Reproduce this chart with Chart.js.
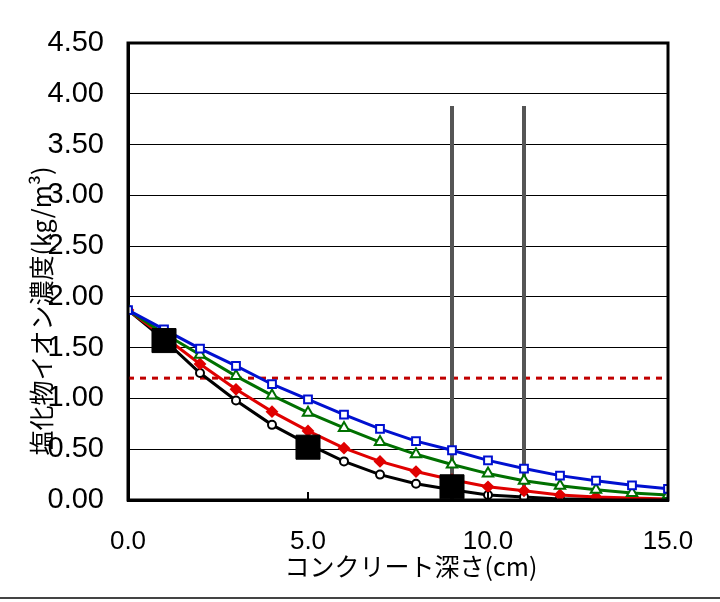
<!DOCTYPE html>
<html>
<head>
<meta charset="utf-8">
<script src="https://cdn.jsdelivr.net/npm/chart.js@4"></script>
<style>
  html, body { margin:0; padding:0; background:#fff; }
</style>
</head>
<body>
<canvas id="chart" width="720" height="602"></canvas>
<script>

// depth (cm) and chloride ion values per series
const depth      = [0,1,2,3,4,5,6,7,8,9,10,11,12,13,14,15]
const blueVals   = [1.87,1.68,1.49,1.32,1.14,0.99,0.84,0.70,0.58,0.49,0.39,0.31,0.24,0.19,0.145,0.11]
const greenVals  = [1.87,1.64,1.43,1.22,1.03,0.86,0.71,0.57,0.45,0.35,0.26,0.19,0.14,0.10,0.07,0.05]
const redVals    = [1.87,1.61,1.34,1.09,0.87,0.68,0.51,0.38,0.28,0.20,0.13,0.09,0.05,0.03,0.02,0.01]
const blackVals  = [1.87,1.58,1.25,0.98,0.74,0.55,0.38,0.25,0.16,0.10,0.05,0.03,0.01,0.01,0.00,0.00]

// measured points (big squares)
const measDepth  = [1, 5, 9]
const measVals   = [1.57, 0.52, 0.13]

// rebar position lines and limit value
const rebarDepth = [9, 11]
const rebarTop   = 3.88
const limitValue = 1.2

const xTicks = [0, 5, 10, 15]
const yMax   = 4.5

const xTitle = 'コンクリート深さ(cm)'
const yTitle = '塩化物イオン濃度(kg/m³)'

const tickFamily = '"Liberation Sans", Arial, sans-serif'
const titleFont  = '"Noto Sans CJK JP", sans-serif'


function toXY(xs, ys){ return xs.map((x,i)=>({ x:x, y:ys[i] })) }

function series(vals, color, style, radius, fill){
      return {
            data: toXY(depth, vals),
            borderColor: color,
            borderWidth: 3,
            pointStyle: style,
            pointRadius: radius,
            pointBorderColor: color,
            pointBorderWidth: 2,
            pointBackgroundColor: fill,
            tension: 0,
      }
}


const datasets = [
      {
            data: toXY(measDepth, measVals),
            showLine: false,
            pointStyle: 'rect',
            pointRadius: 17,
            pointBackgroundColor: '#000',
            pointBorderColor: '#000',
            pointBorderWidth: 1,
      },
      series(blueVals,  '#0010d0', 'rect',     5.5, '#fff'),
      series(greenVals, '#007000', 'triangle', 6,   '#fff'),
      series(redVals,   '#e00000', 'rectRot',  5,   '#e00000'),
      series(blackVals, '#000000', 'circle',   4,   '#fff'),
]

rebarDepth.forEach((d)=>{
      datasets.push({
            data: [ {x:d, y:0}, {x:d, y:rebarTop} ],
            borderColor: '#555',
            borderWidth: 4,
            pointRadius: 0,
      })
})

datasets.push({
      data: [ {x:0, y:limitValue}, {x:15, y:limitValue} ],
      borderColor: '#c00000',
      borderWidth: 3,
      borderDash: [6,6],
      pointRadius: 0,
})


// frame, inner ticks, axis titles, bottom rule
const decor = {
      id: 'decor',
      afterDatasetsDraw(chart){
            const { ctx, chartArea:a, scales } = chart
            ctx.save()
            ctx.strokeStyle = '#000'
            ctx.lineWidth = 3
            ctx.strokeRect(a.left, a.top, a.right - a.left, a.bottom - a.top)

            ctx.lineWidth = 2
            ;[5,10].forEach((v)=>{
                  const px = scales.x.getPixelForValue(v)
                  ctx.beginPath(); ctx.moveTo(px, a.bottom); ctx.lineTo(px, a.bottom - 8); ctx.stroke()
            })
            ctx.restore()
      },
      afterDraw(chart){
            const { ctx, chartArea:a } = chart
            ctx.save()
            ctx.fillStyle = '#000'
            ctx.textAlign = 'center'
            ctx.textBaseline = 'middle'

            ctx.font = '25px ' + titleFont
            ctx.fillText(xTitle, 411, 566)

            ctx.translate(41, a.bottom - 189)
            ctx.rotate(-Math.PI/2)
            ctx.fillText(yTitle, 0, 0)
            ctx.restore()

            ctx.save()
            ctx.strokeStyle = '#444'
            ctx.lineWidth = 2
            ctx.beginPath(); ctx.moveTo(0, 598); ctx.lineTo(720, 598); ctx.stroke()
            ctx.restore()
      }
}


new Chart(document.getElementById('chart'), {
      type: 'scatter',
      data: { datasets: datasets },
      options: {
            responsive: false,
            animation: false,
            showLine: true,
            layout: { padding: { top:43, right:52, left:0, bottom:0 } },
            plugins: {
                  legend:  { display:false },
                  tooltip: { enabled:false },
            },
            scales: {
                  x: {
                        type: 'linear',
                        min: 0, max: 15,
                        afterBuildTicks: (s)=>{ s.ticks = xTicks.map(v=>({ value:v })) },
                        afterFit: (s)=>{ s.height = 102 },
                        grid: { display:false, drawTicks:false },
                        border: { display:true, color:'#000', width:3 },
                        ticks: { font: { family:tickFamily, size:26 }, color:'#000', padding:26, maxRotation:0,
                                 callback: (v)=> Number(v).toFixed(1) },
                  },
                  y: {
                        min: 0, max: yMax,
                        ticks: { stepSize:0.5, font: { family:tickFamily, size:29 }, color:'#000', padding:24,
                                 callback: (v)=> Number(v).toFixed(2) },
                        afterFit: (s)=>{ s.width = 128 },
                        grid: { color:'#000', lineWidth:1, drawTicks:false },
                        border: { display:true, color:'#000', width:3 },
                  },
            },
      },
      plugins: [decor],
})

</script>
</body>
</html>
